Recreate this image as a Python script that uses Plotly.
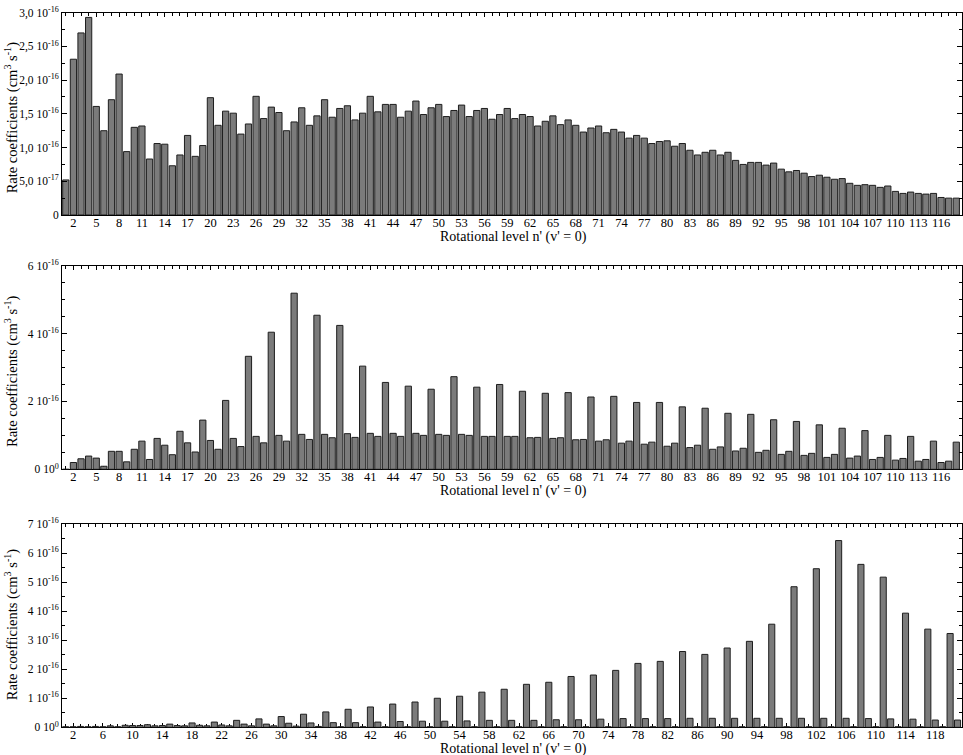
import plotly.graph_objects as go

# ---------------- data (rate coefficients in units of 1e-16 cm^3 s^-1) ----------------
levels_top = list(range(1, 119))
rates_top = [
    0.52, 2.31, 2.70, 2.93, 1.61, 1.25, 1.71, 2.09, 0.94, 1.30,
    1.32, 0.83, 1.06, 1.05, 0.73, 0.89, 1.18, 0.87, 1.03, 1.74,
    1.33, 1.54, 1.51, 1.20, 1.35, 1.76, 1.43, 1.60, 1.52, 1.25,
    1.38, 1.59, 1.33, 1.47, 1.71, 1.45, 1.58, 1.62, 1.41, 1.51,
    1.76, 1.53, 1.64, 1.64, 1.45, 1.54, 1.69, 1.49, 1.59, 1.64,
    1.46, 1.55, 1.63, 1.46, 1.55, 1.58, 1.42, 1.49, 1.58, 1.43,
    1.49, 1.46, 1.32, 1.39, 1.47, 1.34, 1.41, 1.33, 1.23, 1.29,
    1.32, 1.22, 1.27, 1.23, 1.14, 1.18, 1.14, 1.06, 1.09, 1.10,
    1.02, 1.06, 0.96, 0.89, 0.93, 0.96, 0.89, 0.93, 0.81, 0.75,
    0.78, 0.78, 0.74, 0.77, 0.68, 0.64, 0.66, 0.62, 0.57, 0.59,
    0.56, 0.53, 0.54, 0.47, 0.44, 0.45, 0.44, 0.41, 0.43, 0.35,
    0.32, 0.34, 0.32, 0.31, 0.32, 0.26, 0.25, 0.25,
]

levels_mid = list(range(1, 119))
rates_mid = [
    0.00, 0.20, 0.31, 0.39, 0.33, 0.09, 0.53, 0.53, 0.22, 0.59,
    0.83, 0.29, 0.91, 0.71, 0.43, 1.12, 0.78, 0.51, 1.45, 0.85,
    0.59, 2.03, 0.91, 0.67, 3.33, 0.97, 0.78, 4.04, 1.00, 0.83,
    5.19, 1.03, 0.88, 4.54, 1.03, 0.93, 4.24, 1.05, 0.94, 3.04,
    1.06, 0.97, 2.56, 1.06, 0.97, 2.45, 1.06, 1.00, 2.36, 1.03,
    1.00, 2.73, 1.03, 1.00, 2.42, 0.97, 0.97, 2.50, 0.97, 0.97,
    2.30, 0.93, 0.94, 2.24, 0.91, 0.93, 2.26, 0.87, 0.88, 2.13,
    0.83, 0.87, 2.15, 0.77, 0.83, 1.97, 0.74, 0.80, 1.97, 0.68,
    0.77, 1.84, 0.64, 0.71, 1.80, 0.59, 0.66, 1.65, 0.54, 0.62,
    1.62, 0.50, 0.56, 1.46, 0.44, 0.53, 1.41, 0.41, 0.47, 1.31,
    0.35, 0.44, 1.21, 0.33, 0.39, 1.14, 0.29, 0.35, 1.00, 0.27,
    0.32, 0.97, 0.24, 0.29, 0.83, 0.20, 0.24, 0.80,
]

levels_bot = list(range(1, 122))
rates_bot = [
    0.02, 0.02, 0.03, 0.02, 0.03, 0.02, 0.05, 0.02, 0.07, 0.06,
    0.06, 0.09, 0.05, 0.06, 0.11, 0.06, 0.05, 0.15, 0.07, 0.05,
    0.18, 0.08, 0.05, 0.24, 0.11, 0.05, 0.29, 0.11, 0.05, 0.37,
    0.14, 0.04, 0.45, 0.15, 0.03, 0.53, 0.16, 0.02, 0.62, 0.16,
    0.02, 0.70, 0.18, 0.02, 0.80, 0.20, 0.02, 0.87, 0.21, 0.02,
    1.00, 0.21, 0.02, 1.07, 0.22, 0.02, 1.21, 0.24, 0.02, 1.31,
    0.24, 0.02, 1.48, 0.24, 0.02, 1.55, 0.26, 0.02, 1.75, 0.26,
    0.02, 1.80, 0.28, 0.02, 1.96, 0.30, 0.02, 2.20, 0.30, 0.02,
    2.27, 0.30, 0.02, 2.61, 0.31, 0.02, 2.51, 0.31, 0.02, 2.73,
    0.31, 0.02, 2.96, 0.31, 0.02, 3.55, 0.31, 0.02, 4.84, 0.31,
    0.02, 5.46, 0.31, 0.02, 6.43, 0.31, 0.02, 5.61, 0.30, 0.02,
    5.17, 0.29, 0.02, 3.93, 0.28, 0.02, 3.38, 0.25, 0.02, 3.23,
    0.25,
]
SCALE = 1e-16

# tick labels
yticks_top = [0, 0.5, 1.0, 1.5, 2.0, 2.5, 3.0]
ytext_top = ["0", "5,0 10<sup>-17</sup>", "1,0 10<sup>-16</sup>", "1,5 10<sup>-16</sup>",
             "2,0 10<sup>-16</sup>", "2,5 10<sup>-16</sup>", "3,0 10<sup>-16</sup>"]
yticks_mid = [0, 2, 4, 6]
ytext_mid = ["0 10<sup>0</sup>", "2 10<sup>-16</sup>", "4 10<sup>-16</sup>", "6 10<sup>-16</sup>"]
yticks_bot = [0, 1, 2, 3, 4, 5, 6, 7]
ytext_bot = ["0 10<sup>0</sup>"] + ["%d 10<sup>-16</sup>" % k for k in range(1, 8)]

y_title = "Rate coefficients (cm<sup>3</sup> s<sup>-1</sup>)"
x_title = "Rotational level n' (v' = 0)"

# ---------------- figure ----------------
W, H = 963, 755
FONT = "Liberation Serif"
BAR_FILL = "#7b7b7b"
BAR_EDGE = "#1e1e1e"
PLOT_W = 900

fig = go.Figure()
for xs, ys, xa, ya in [(levels_top, rates_top, "x", "y"),
                       (levels_mid, rates_mid, "x2", "y2"),
                       (levels_bot, rates_bot, "x3", "y3")]:
    fig.add_trace(go.Bar(
        x=xs, y=[v * SCALE for v in ys], xaxis=xa, yaxis=ya,
        width=0.82, marker=dict(color=BAR_FILL, line=dict(color=BAR_EDGE, width=1)),
        showlegend=False, hoverinfo="x+y"))

def px2paper(py):
    return 1 - py / H

panels = [  # (top px, bottom px, xrange, x tick0, x dtick, yticks, ytext, ymax, yminor, ytitle shift)
    (12.7, 215.0, [0.5, 118.75], 2, 3, yticks_top, ytext_top, 3.0, 0.25, 4),
    (265.7, 469.3, [0.5, 118.75], 2, 3, yticks_mid, ytext_mid, 6.0, 0.5, 4),
    (524.0, 727.3, [0.5, 121.6], 2, 4, yticks_bot, ytext_bot, 7.0, 0.5, -1),
]

layout = dict(
    width=W, height=H, margin=dict(l=62, r=1, t=0, b=0, autoexpand=False),
    paper_bgcolor="white", plot_bgcolor="white",
    font=dict(family=FONT, size=12, color="black"),
    bargap=0.15, showlegend=False,
)
annotations = []
for i, (ptop, pbot, xr, t0, dt, yv, yt, ymax, ymin_step, tshift) in enumerate(panels):
    sx = "" if i == 0 else str(i + 1)
    layout["xaxis" + sx] = dict(
        domain=[0, 1], anchor="y" + sx, range=xr, tickmode="linear", tick0=t0, dtick=dt,
        ticks="inside", ticklen=4, tickcolor="black", showline=True, linecolor="black",
        linewidth=1, mirror="ticks", showgrid=False, zeroline=False, layer="below traces",
        automargin=False, ticklabelstandoff=-4, tickfont=dict(family=FONT, size=12.5),
        minor=dict(ticks="inside", ticklen=3, tick0=0, dtick=1, tickcolor="black", showgrid=False),
    )
    layout["yaxis" + sx] = dict(
        domain=[px2paper(pbot), px2paper(ptop)], anchor="x" + sx,
        range=[0, ymax * SCALE], tickmode="array",
        tickvals=[v * SCALE for v in yv], ticktext=yt,
        ticks="inside", ticklen=5, tickcolor="black", showline=True, linecolor="black",
        linewidth=1, mirror="ticks", showgrid=False, zeroline=False,
        automargin=False, tickfont=dict(family=FONT, size=11.5),
        minor=dict(ticks="inside", ticklen=3, tick0=0, dtick=ymin_step * SCALE,
                   tickcolor="black", showgrid=False),
    )
    annotations.append(dict(
        text=y_title, xref="paper", yref="paper", x=(11.5 - 62) / PLOT_W,
        y=px2paper((ptop + pbot) / 2 + tshift), xanchor="center", yanchor="middle",
        textangle=-90, showarrow=False, font=dict(family=FONT, size=14.5)))
    annotations.append(dict(
        text=x_title, xref="paper", yref="paper", x=(513.5 - 62) / PLOT_W,
        y=px2paper(pbot + 21.5), xanchor="center", yanchor="middle",
        showarrow=False, font=dict(family=FONT, size=14)))

layout["annotations"] = annotations
fig.update_layout(**layout)
fig.write_html(
    "out.html",
    config={"displayModeBar": False},
    post_script="document.body.style.margin='0';document.body.style.overflow='hidden';"
                "document.documentElement.style.overflow='hidden';",
)
